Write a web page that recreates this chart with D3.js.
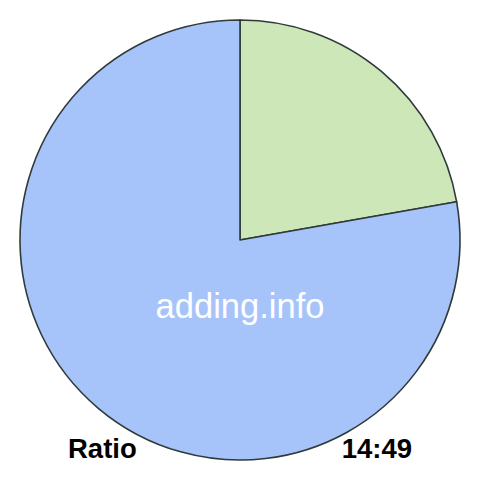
<!DOCTYPE html>
<html>
<head>
<meta charset="utf-8">
<script src="https://cdn.jsdelivr.net/npm/d3@7"></script>
<style>
  html, body { margin: 0; padding: 0; background: #fff; }
  svg { display: block; font-family: "Liberation Sans", Arial, sans-serif; }
</style>
</head>
<body>
<svg id="chart" width="480" height="480"></svg>
<script>
// ratio parts, in drawing order (clockwise from 12 o'clock)
const labels = ["first", "second"];
const values = [14, 49];
const colors = ["#cde7b8", "#a6c4fa"];
const ratioText = "14:49";

const svg = d3.select("#chart");
const cx = 240, cy = 240, R = 220;

const pie = d3.pie().sort(null).value(d => d.v);
const arc = d3.arc().innerRadius(0).outerRadius(R);
const data = labels.map((l, i) => ({ l, v: values[i], c: colors[i] }));

const g = svg.append("g").attr("transform", `translate(${cx},${cy})`);

g.selectAll("path.slice")
  .data(pie(data))
  .join("path")
  .attr("class", "slice")
  .attr("d", arc)
  .attr("fill", d => d.data.c)
  .attr("stroke", "#2f3a3a")
  .attr("stroke-width", 1.6)
  .attr("stroke-linejoin", "round");

// watermark
svg.append("text")
  .attr("x", cx).attr("y", 318)
  .attr("text-anchor", "middle")
  .attr("fill", "#fff")
  .attr("font-size", 34.5)
  .text("adding.info");

// bottom labels
svg.append("text")
  .attr("x", 68).attr("y", 458)
  .attr("font-size", 27.5).attr("font-weight", "bold")
  .attr("fill", "#000")
  .text("Ratio");

svg.append("text")
  .attr("x", 412).attr("y", 458)
  .attr("text-anchor", "end")
  .attr("font-size", 27.5).attr("font-weight", "bold")
  .attr("fill", "#000")
  .text(ratioText);
</script>
</body>
</html>
